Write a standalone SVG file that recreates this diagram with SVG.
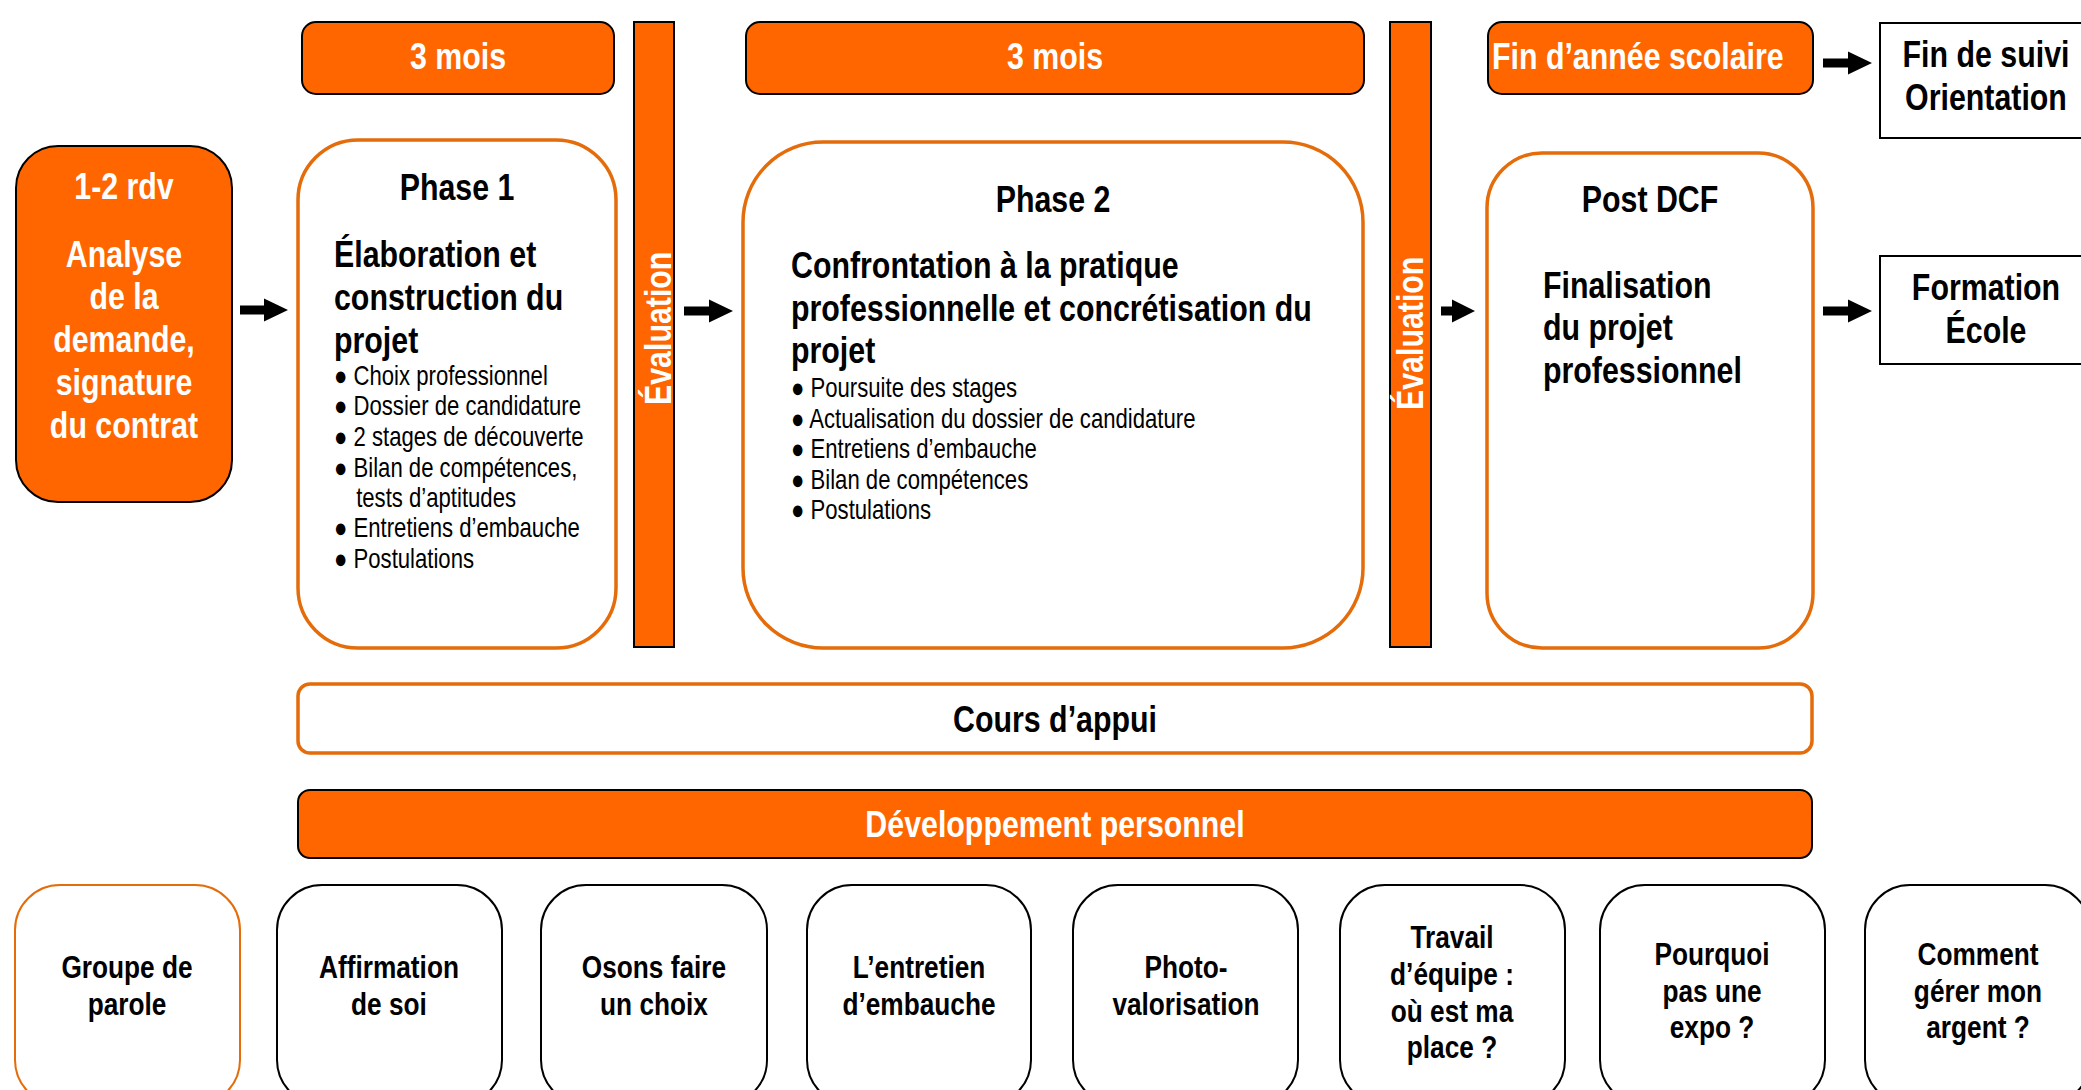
<svg xmlns="http://www.w3.org/2000/svg" width="2081" height="1090" viewBox="0 0 2081 1090">
<style>
text{font-family:"Liberation Sans",Arial,sans-serif;}
.h{font-size:37px;font-weight:bold;fill:#000;}
.hw{font-size:37px;font-weight:bold;fill:#fff;}
.b{font-size:27px;fill:#000;}
.s{font-size:32px;font-weight:bold;fill:#000;}
.c{text-anchor:middle;}
.of{fill:#FF6600;stroke:#000;stroke-width:2;}
.ph{fill:#fff;stroke:#E46C0A;stroke-width:3.5;}
.wb{fill:#fff;stroke:#000;stroke-width:2;}
.sm{fill:#fff;stroke:#000;stroke-width:2;}
.smo{fill:#fff;stroke:#E46C0A;stroke-width:2;}
.arr{fill:#000;}
</style>
<rect width="2081" height="1090" fill="#fff"/>

<g id="top-3mois-1"><rect class="of" x="302" y="22" width="312" height="72" rx="14"/><text class="hw c" transform="translate(458,69) scale(.82,1)">3 mois</text></g>
<g id="top-3mois-2"><rect class="of" x="746" y="22" width="618" height="72" rx="14"/><text class="hw c" transform="translate(1055,69) scale(.82,1)">3 mois</text></g>
<g id="top-fin-annee"><rect class="of" x="1488" y="22" width="325" height="72" rx="14"/><text class="hw" transform="translate(1492,69) scale(.82,1)">Fin d’année scolaire</text></g>
<g id="fin-suivi"><rect class="wb" x="1880" y="23" width="220" height="115"/><text class="h c" transform="translate(1986,67) scale(.82,1)">Fin de suivi<tspan x="0" y="43">Orientation</tspan></text></g>

<g id="analyse"><rect class="of" x="16" y="146" width="216" height="356" rx="42"/>
<text class="hw c" transform="translate(124,199) scale(.82,1)">1-2 rdv<tspan x="0" y="68">Analyse</tspan><tspan x="0" y="110">de la</tspan><tspan x="0" y="153">demande,</tspan><tspan x="0" y="196">signature</tspan><tspan x="0" y="239">du contrat</tspan></text></g>

<g id="phase1"><rect class="ph" x="298" y="140" width="318" height="508" rx="60"/>
<text class="h c" transform="translate(457,200) scale(.82,1)">Phase 1</text>
<text class="h" transform="translate(334,267) scale(.82,1)">Élaboration et<tspan x="0" y="43">construction du</tspan><tspan x="0" y="86">projet</tspan></text>
<text class="b" transform="translate(334,385) scale(.82,1)">● Choix professionnel<tspan x="0" y="30">● Dossier de candidature</tspan><tspan x="0" y="61">● 2 stages de découverte</tspan><tspan x="0" y="92">● Bilan de compétences,</tspan><tspan x="27" y="122">tests d’aptitudes</tspan><tspan x="0" y="152">● Entretiens d’embauche</tspan><tspan x="0" y="183">● Postulations</tspan></text></g>

<g id="evaluation-1"><rect class="of" x="634" y="22" width="40" height="625"/><text class="hw" transform="translate(671,405) rotate(-90) scale(.82,1)">Évaluation</text></g>

<g id="phase2"><rect class="ph" x="743" y="142" width="620" height="506" rx="80"/>
<text class="h c" transform="translate(1053,212) scale(.82,1)">Phase 2</text>
<text class="h" transform="translate(791,278) scale(.82,1)">Confrontation à la pratique<tspan x="0" y="43">professionnelle et concrétisation du</tspan><tspan x="0" y="85">projet</tspan></text>
<text class="b" transform="translate(791,397) scale(.82,1)">● Poursuite des stages<tspan x="0" y="31">● Actualisation du dossier de candidature</tspan><tspan x="0" y="61">● Entretiens d’embauche</tspan><tspan x="0" y="92">● Bilan de compétences</tspan><tspan x="0" y="122">● Postulations</tspan></text></g>

<g id="evaluation-2"><rect class="of" x="1390" y="22" width="41" height="625"/><text class="hw" transform="translate(1423,410) rotate(-90) scale(.82,1)">Évaluation</text></g>

<g id="post-dcf"><rect class="ph" x="1487" y="153" width="326" height="495" rx="55"/>
<text class="h c" transform="translate(1650,212) scale(.82,1)">Post DCF</text>
<text class="h" transform="translate(1543,298) scale(.82,1)">Finalisation<tspan x="0" y="42">du projet</tspan><tspan x="0" y="85">professionnel</tspan></text></g>

<g id="formation-ecole"><rect class="wb" x="1880" y="256" width="220" height="108"/><text class="h c" transform="translate(1986,300) scale(.82,1)">Formation<tspan x="0" y="43">École</tspan></text></g>

<g id="cours-appui"><rect class="ph" x="298" y="684" width="1514" height="69" rx="12"/><text class="h c" transform="translate(1055,732) scale(.82,1)">Cours d’appui</text></g>
<g id="dev-perso"><rect class="of" x="298" y="790" width="1514" height="68" rx="12"/><text class="hw c" transform="translate(1055,837) scale(.82,1)">Développement personnel</text></g>

<g id="groupe-parole"><rect class="smo" x="15" y="885" width="225" height="220" rx="45"/><text class="s c" transform="translate(127,978) scale(.82,1)">Groupe de<tspan x="0" y="37">parole</tspan></text></g>
<g id="affirmation"><rect class="sm" x="277" y="885" width="225" height="220" rx="45"/><text class="s c" transform="translate(389,978) scale(.82,1)">Affirmation<tspan x="0" y="37">de soi</tspan></text></g>
<g id="osons"><rect class="sm" x="541" y="885" width="226" height="220" rx="45"/><text class="s c" transform="translate(654,978) scale(.82,1)">Osons faire<tspan x="0" y="37">un choix</tspan></text></g>
<g id="entretien"><rect class="sm" x="807" y="885" width="224" height="220" rx="45"/><text class="s c" transform="translate(919,978) scale(.82,1)">L’entretien<tspan x="0" y="37">d’embauche</tspan></text></g>
<g id="photo"><rect class="sm" x="1073" y="885" width="225" height="220" rx="45"/><text class="s c" transform="translate(1186,978) scale(.82,1)">Photo-<tspan x="0" y="37">valorisation</tspan></text></g>
<g id="travail"><rect class="sm" x="1340" y="885" width="225" height="220" rx="45"/><text class="s c" transform="translate(1452,948) scale(.82,1)">Travail<tspan x="0" y="37">d’équipe :</tspan><tspan x="0" y="74">où est ma</tspan><tspan x="0" y="110">place ?</tspan></text></g>
<g id="expo"><rect class="sm" x="1600" y="885" width="225" height="220" rx="45"/><text class="s c" transform="translate(1712,965) scale(.82,1)">Pourquoi<tspan x="0" y="37">pas une</tspan><tspan x="0" y="73">expo ?</tspan></text></g>
<g id="argent"><rect class="sm" x="1865" y="885" width="225" height="220" rx="45"/><text class="s c" transform="translate(1978,965) scale(.82,1)">Comment<tspan x="0" y="37">gérer mon</tspan><tspan x="0" y="73">argent ?</tspan></text></g>

<g id="connectors">
<polygon class="arr" points="240,305.5 264,305.5 264,298.5 288,310 264,321.5 264,314.5 240,314.5"/>
<polygon class="arr" points="684,306.5 709,306.5 709,299.5 733,311 709,322.5 709,315.5 684,315.5"/>
<polygon class="arr" points="1441,306.5 1452,306.5 1452,299.5 1475,311 1452,322.5 1452,315.5 1441,315.5"/>
<polygon class="arr" points="1823,306.5 1848,306.5 1848,299.5 1872,311 1848,322.5 1848,315.5 1823,315.5"/>
<polygon class="arr" points="1823,58.5 1848,58.5 1848,51.5 1872,63 1848,74.5 1848,67.5 1823,67.5"/>
</g>
</svg>
